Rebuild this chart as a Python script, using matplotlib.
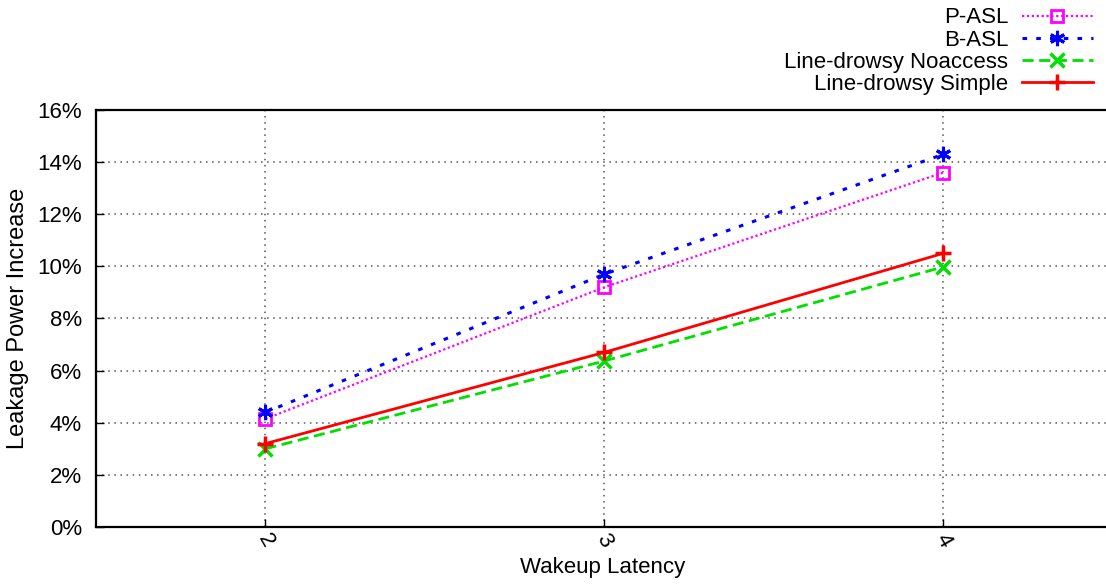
#!/usr/bin/env python3
"""Leakage power increase vs wakeup latency (gnuplot-style line chart)."""
import matplotlib
matplotlib.use("Agg")
import matplotlib.pyplot as plt
from matplotlib.ticker import FuncFormatter

plt.rcParams["font.family"] = ["Liberation Sans", "DejaVu Sans"]

latency = [2, 3, 4]
p_asl = [4.15, 9.2, 13.6]
b_asl = [4.4, 9.7, 14.3]
ld_noaccess = [3.0, 6.37, 9.98]
ld_simple = [3.2, 6.7, 10.5]
yticks = [0, 2, 4, 6, 8, 10, 12, 14, 16]

fig = plt.figure(figsize=(11.06, 5.86), dpi=100)
ax = fig.add_axes([0.0868, 0.1007, 0.9162, 0.7116])

ax.plot(latency, p_asl, color="#ff00ff", ls=(0, (1, 1.2)), lw=1.6,
        marker="s", ms=9, mfc="none", mew=2, label="P-ASL")
ax.plot(latency, b_asl, color="#0000ff", ls=(0, (1.5, 3)), lw=2.2,
        marker=(6, 2, 0), ms=11, mew=2.2, label="B-ASL")
ax.plot(latency, ld_noaccess, color="#00e000", ls=(0, (4, 2)), lw=2,
        marker="x", ms=10, mew=2.5, label="Line-drowsy Noaccess")
ax.plot(latency, ld_simple, color="#ff0000", ls="-", lw=2,
        marker="+", ms=12, mew=2.5, label="Line-drowsy Simple")

ax.set_xlim(1.5, 4.49)
ax.set_ylim(0, 16)
ax.set_xticks(latency)
ax.set_yticks(yticks)
ax.yaxis.set_major_formatter(FuncFormatter(lambda v, p: f"{v:.0f}%"))
ax.tick_params(direction="in", length=6, width=1, labelsize=16, color="black")
ax.tick_params(axis="y", pad=10)
ax.tick_params(axis="x", pad=10)
for lbl in ax.get_xticklabels():
    lbl.set_rotation(-60)
    lbl.set_ha("center")
    lbl.set_va("center")
ax.grid(True, color="#555555", ls=(0, (1, 3)), lw=1.1)
for s in ax.spines.values():
    s.set_linewidth(1.6)

ax.set_xlabel("Wakeup Latency", fontsize=16, labelpad=4)
ax.set_ylabel("Leakage Power Increase", fontsize=17, labelpad=6)

fig.legend(loc="upper right", bbox_to_anchor=(1.0, 1.01), frameon=False,
           markerfirst=False, fontsize=16, handlelength=3.2, labelspacing=0.05,
           handletextpad=0.6, borderpad=0.1)

fig.savefig("out.png", dpi=100)
